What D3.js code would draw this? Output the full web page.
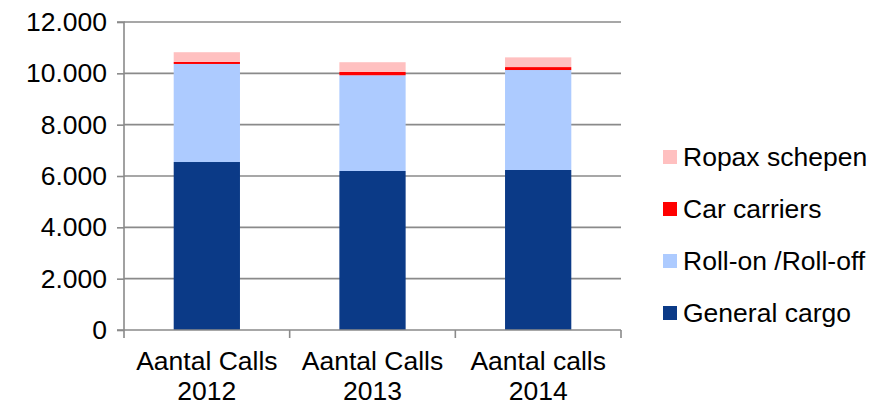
<!DOCTYPE html>
<html><head><meta charset="utf-8">
<script src="https://cdn.jsdelivr.net/npm/d3@7"></script>
<style>body{margin:0;background:#fff}svg{display:block;font-family:"Liberation Sans",Arial,sans-serif}</style>
</head><body><svg id="c" width="871" height="403"></svg>
<script>
const categories = [["Aantal Calls","2012"],["Aantal Calls","2013"],["Aantal calls","2014"]];
const seriesNames = ["General cargo","Roll-on /Roll-off","Car carriers","Ropax schepen"];
const generalCargo = [6545, 6195, 6234];
const rollOn = [3820, 3730, 3895];
const carCarriers = [80, 130, 115];
const ropax = [378, 378, 378];
const colors = ["#0b3a87","#adcbff","#ff0000","#ffc0c0"];
const yTicks = [0,2000,4000,6000,8000,10000,12000];

const svg = d3.select("#c");
const m = {l:124, r:871-621, t:22, b:403-330};
const W = 871, H = 403;
const FS = 26.5;
const x = d3.scaleBand().domain(d3.range(categories.length)).range([m.l, W-m.r]).paddingInner(0.6).paddingOuter(0.3);
const y = d3.scaleLinear().domain([0,12000]).range([H-m.b, m.t]);
const fmt = v => d3.format(",")(v).replace(/,/g,".");
const gridColor = "#8a8a8a";

// gridlines
svg.append("g").selectAll("line").data(yTicks.filter(d=>d>0)).join("line")
  .attr("x1", m.l).attr("x2", W-m.r).attr("y1", d=>y(d)).attr("y2", d=>y(d))
  .attr("stroke", gridColor).attr("stroke-width", 1.6);

// stacked bars
const rows = categories.map((c,i)=>({i, v:[generalCargo[i], rollOn[i], carCarriers[i], ropax[i]]}));
const stack = d3.stack().keys([0,1,2,3]).value((d,k)=>d.v[k]);
const layers = stack(rows);
svg.append("g").selectAll("g").data(layers).join("g").attr("fill", (d,k)=>colors[k])
  .selectAll("rect").data(d=>d).join("rect")
  .attr("x", d=>x(d.data.i)).attr("width", x.bandwidth())
  .attr("y", d=>y(d[1])).attr("height", d=>y(d[0])-y(d[1]));

// y axis
const ya = d3.axisLeft(y).tickValues(yTicks).tickFormat(fmt).tickSize(7).tickPadding(10);
const gy = svg.append("g").attr("transform", `translate(${m.l},0)`).call(ya);
gy.select(".domain").attr("stroke", gridColor).attr("stroke-width", 1.6).attr("d", `M-7,${y(12000)}H0V${y(0)}`);
gy.selectAll(".tick line").attr("stroke", gridColor).attr("stroke-width", 1.6);
gy.selectAll(".tick text").attr("font-size", FS).attr("fill", "#000").attr("font-family", "Liberation Sans, Arial, sans-serif");

// x axis
const gx = svg.append("g").attr("transform", `translate(0,${y(0)})`);
gx.append("line").attr("x1", m.l-7).attr("x2", W-m.r).attr("stroke", gridColor).attr("stroke-width", 1.6);
const bounds = d3.range(categories.length+1).map(k => m.l + (W-m.l-m.r)*k/categories.length);
gx.selectAll("line.t").data(bounds).join("line").attr("class","t")
  .attr("x1", d=>d).attr("x2", d=>d).attr("y1", 0).attr("y2", 8)
  .attr("stroke", gridColor).attr("stroke-width", 1.6);
const lbl = gx.selectAll("text.c").data(categories).join("text").attr("class","c")
  .attr("text-anchor","middle").attr("font-size", FS).attr("fill","#000");
lbl.append("tspan").attr("x", (d,i)=>x(i)+x.bandwidth()/2).attr("y", 40).text(d=>d[0]);
lbl.append("tspan").attr("x", (d,i)=>x(i)+x.bandwidth()/2).attr("y", 70).text(d=>d[1]);

// legend
const legendOrder = [3,2,1,0];
const lg = svg.append("g").selectAll("g").data(legendOrder).join("g")
  .attr("transform", (d,k)=>`translate(663,${157 + k*52})`);
lg.append("rect").attr("x",0).attr("y",-7).attr("width",14).attr("height",14).attr("fill", d=>colors[d]);
lg.append("text").attr("x",20).attr("y",0).attr("dy","0.35em").attr("font-size",FS).attr("fill","#000").text(d=>seriesNames[d]);
</script></body></html>
